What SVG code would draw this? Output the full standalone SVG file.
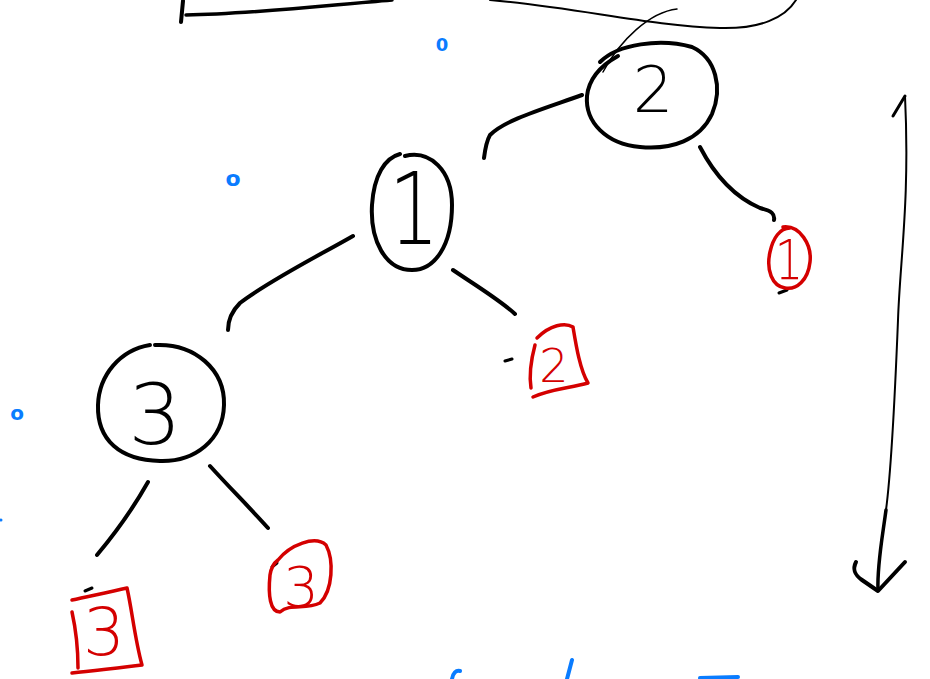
<svg xmlns="http://www.w3.org/2000/svg" width="930" height="679" viewBox="0 0 930 679">
<style>
.ink{fill:none;stroke:#000;stroke-linecap:round;stroke-linejoin:round}
.red{fill:none;stroke:#d40000;stroke-width:3.5;stroke-linecap:round;stroke-linejoin:round}
.blue{fill:none;stroke:#0a7cff;stroke-width:4;stroke-linecap:round}
.num{font-family:"DejaVu Sans","Liberation Sans",sans-serif;font-weight:300;text-anchor:middle}
.bk{fill:#000}
.rd{fill:#d40000}
.bl{fill:#0a7cff;font-family:"DejaVu Sans",sans-serif;font-weight:bold;text-anchor:middle}
</style>
<rect width="930" height="679" fill="#fff"/>
<g id="top-bracket">
<path class="ink" stroke-width="4" d="M183 1 L181 22"/>
<path class="ink" stroke-width="3.5" d="M186 15 C250 14 320 6 392 0"/>
<path class="ink" stroke-width="2" d="M490 0 C580 8 650 26 720 28 C760 29 785 18 796 0"/>
<path class="ink" stroke-width="1.5" d="M677 9 C650 12 620 40 603 72"/>
</g>
<g id="connectors">
<path class="ink" stroke-width="4" d="M582 95 C540 110 505 120 490 135 C486 142 485 150 484 158"/>
<path class="ink" stroke-width="4" d="M700 147 C712 170 730 195 760 208 C772 211 775 214 774 220"/>
<path class="ink" stroke-width="4" d="M353 236 C320 255 270 280 240 303 C230 313 228 322 228 330"/>
<path class="ink" stroke-width="4" d="M453 270 C475 285 500 300 515 314"/>
<path class="ink" stroke-width="4" d="M148 482 C135 505 118 530 97 555"/>
<path class="ink" stroke-width="4" d="M210 466 C230 488 250 508 268 528"/>
<path class="ink" stroke-width="3" d="M505 361 L512 359"/>
<path class="ink" stroke-width="3" d="M272 567 L277 563"/>
<path class="ink" stroke-width="3" d="M85 591 L92 588"/>
<path class="ink" stroke-width="3" d="M779 293 L787 290"/>
</g>
<g id="node-2">
<path class="ink" stroke-width="4" d="M600 62 C618 44 660 38 692 47 C716 58 723 88 712 114 C700 140 672 150 640 147 C606 144 585 122 587 96 C589 78 600 66 618 56"/>
<text class="num bk" x="653" y="112" font-size="64">2</text>
</g>
<g id="node-1">
<path class="ink" stroke-width="4" d="M405 156 C430 150 452 170 452 205 C452 245 435 270 412 270 C385 270 370 240 372 205 C374 175 385 158 400 154"/>
<text class="num bk" x="414" y="244" font-size="100" transform="translate(414 0) scale(0.8 1) translate(-414 0)">1</text>
</g>
<g id="node-3">
<path class="ink" stroke-width="4" d="M155 345 C195 343 225 370 224 405 C223 440 195 462 160 461 C120 460 97 440 98 405 C99 375 120 350 150 345"/>
<text class="num bk" x="155" y="444" font-size="84">3</text>
</g>
<g id="leaf-1">
<path class="red" d="M783 227 C800 225 812 245 810 262 C808 280 797 290 785 288 C772 286 766 270 770 252 C773 238 780 228 790 228"/>
<text class="num rd" x="789" y="279" font-size="56" transform="translate(789 0) scale(0.8 1) translate(-789 0)">1</text>
</g>
<g id="leaf-2">
<path class="red" d="M537 338 C550 325 565 322 573 327 C576 345 580 370 588 383 C570 388 550 389 533 397"/>
<path class="red" d="M535 345 C531 360 529 375 531 388"/>
<text class="num rd" x="554" y="382" font-size="46">2</text>
</g>
<g id="leaf-3-right">
<path class="red" d="M278 560 C290 545 315 535 326 545 C334 560 333 590 320 603 C305 610 290 603 280 612 C270 612 268 595 270 575 C271 568 274 563 278 560"/>
<text class="num rd" x="301" y="606" font-size="56">3</text>
</g>
<g id="leaf-3-left">
<path class="red" d="M72 600 C90 596 110 592 127 588 C132 610 135 640 142 665 C120 668 95 670 72 673"/>
<path class="red" d="M72 612 C76 630 78 650 78 668"/>
<text class="num rd" x="104" y="655" font-size="66">3</text>
</g>
<g id="arrow">
<path class="ink" stroke-width="2" d="M905 96 C910 200 900 260 898 320 C894 420 890 480 886 510"/>
<path class="ink" stroke-width="3.5" d="M886 510 C882 540 877 565 878 590"/>
<path class="ink" stroke-width="3" d="M893 116 L905 96"/>
<path class="ink" stroke-width="4" d="M856 562 C852 570 855 575 862 580 L878 591 L905 562"/>
</g>
<g id="blue-marks">
<text class="bl" x="442" y="51" font-size="18">0</text>
<text class="bl" x="233" y="186" font-size="22">o</text>
<text class="bl" x="17" y="420" font-size="20">o</text>
<circle cx="1" cy="520" r="1.5" fill="#0a7cff"/>
<path class="blue" d="M452 679 C453 673 456 670 460 671"/>
<path class="blue" d="M572 660 L567 679"/>
<path class="blue" d="M700 678 L738 677"/>
</g>
</svg>
